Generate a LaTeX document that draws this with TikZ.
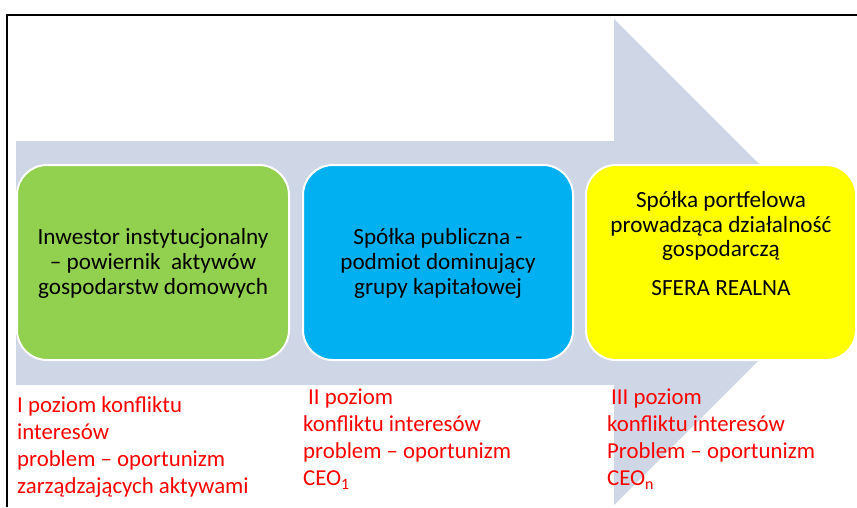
\documentclass[tikz,border=0pt]{standalone}
\usepackage{fontspec}
\setmainfont{Carlito}
\definecolor{arrowfill}{RGB}{207,214,230}
\definecolor{boxgreen}{RGB}{146,208,80}
\definecolor{boxblue}{RGB}{0,176,240}
\definecolor{boxyellow}{RGB}{255,255,0}
\definecolor{notered}{RGB}{255,0,0}
\tikzset{
  stagebox/.style={rectangle, rounded corners=30pt, draw=white, line width=2pt,
    minimum width=270pt, minimum height=195pt, inner sep=0pt},
  stagetext/.style={align=center, inner sep=0pt, text=black,
    font=\fontsize{23.2}{24.8}\selectfont},
  levelnote/.style={align=left, anchor=north west, inner sep=0pt, text=notered,
    font=\fontsize{22.8}{27}\selectfont},
}
\begin{document}
\begin{tikzpicture}[x=1pt,y=-1pt]
  \useasboundingbox (0,0) rectangle (857,507);
  % frame edges
  \draw[line width=2pt] (7,507) -- (7,15) -- (857,15);
  % big background arrow
  \fill[arrowfill] (16,141) -- (614,141) -- (614,19) -- (857,262)
    -- (614,505) -- (614,385) -- (16,385) -- cycle;
  % stage boxes
  \node[stagebox, fill=boxgreen, minimum width=272pt] (inv) at (153,262.5) {};
  \node[stagebox, fill=boxblue] (pub) at (438,262.5) {};
  \node[stagebox, fill=boxyellow] (port) at (721,262.5) {};
  % box labels
  \node[stagetext] (invt) at ([yshift=-1pt]inv.center) {Inwestor instytucjonalny\\– powiernik~ aktywów\\gospodarstw domowych};
  \node[stagetext] (pubt) at ([yshift=-1pt]pub.center) {Spółka publiczna -\\podmiot dominujący\\grupy kapitałowej};
  \node[stagetext, anchor=north] (portt) at (721,191) {Spółka portfelowa\\prowadząca działalność\\gospodarczą\\[14pt]SFERA REALNA};
  % conflict levels
  \node[levelnote] (lvl1) at (17,396) {I poziom konfliktu\\interesów\\problem – oportunizm\\zarządzających aktywami};
  \node[levelnote] (lvl2) at (303,389) {\hspace*{5pt}II poziom\\konfliktu interesów\\problem – oportunizm\\CEO\textsubscript{1}};
  \node[levelnote] (lvl3) at (607,389) {\hspace*{4pt}III poziom\\konfliktu interesów\\Problem – oportunizm\\CEO\textsubscript{n}};
\end{tikzpicture}
\end{document}
